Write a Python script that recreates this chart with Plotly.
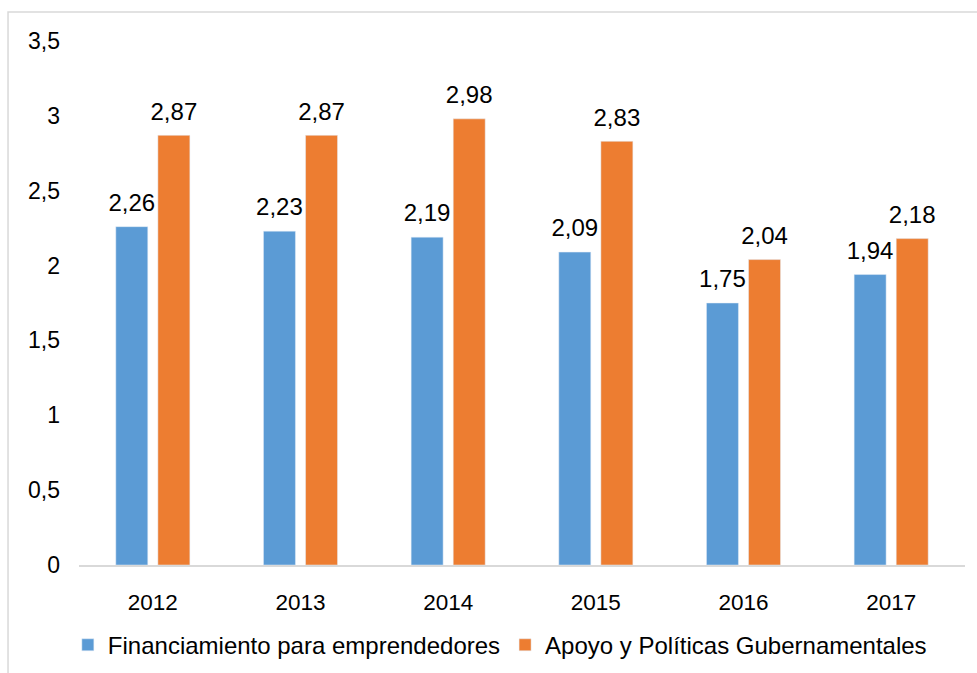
import plotly.graph_objects as go

years = ['2012', '2013', '2014', '2015', '2016', '2017']
financiamiento = [2.26, 2.23, 2.19, 2.09, 1.75, 1.94]
apoyo = [2.87, 2.87, 2.98, 2.83, 2.04, 2.18]
series_names = ['Financiamiento para emprendedores', 'Apoyo y Políticas Gubernamentales']
y_ticks = [0, 0.5, 1, 1.5, 2, 2.5, 3, 3.5]

font_family = 'Liberation Sans, Arial, sans-serif'
colors = ['#5B9BD5', '#ED7D31']

fig = go.Figure()
for i, (name, values, color) in enumerate(zip(series_names, [financiamiento, apoyo], colors)):
    fig.add_trace(go.Bar(
        x=years,
        y=values,
        name=name,
        marker_color=color,
        offsetgroup=str(i),
        cliponaxis=False,
    ))

# data labels as grouped text points so they sit a bit above the bars
for i, values in enumerate([financiamiento, apoyo]):
    fig.add_trace(go.Scatter(
        x=years,
        y=values,
        mode='markers+text',
        text=[f'{v:.2f}'.replace('.', ',') for v in values],
        textposition='top center',
        textfont=dict(size=24, color='#000000', family=font_family),
        marker=dict(size=14, opacity=0),
        offsetgroup=str(i),
        showlegend=False,
        hoverinfo='skip',
        cliponaxis=False,
    ))

fig.update_layout(
    width=977,
    height=673,
    separators=',.',
    barmode='group',
    scattermode='group',
    bargap=0.43,
    scattergap=0.43,
    bargroupgap=0.24,
    plot_bgcolor='white',
    paper_bgcolor='white',
    font=dict(family=font_family, size=22, color='#000000'),
    margin=dict(l=79, r=12, t=41, b=108, autoexpand=False),
    showlegend=True,
    legend=dict(
        orientation='h',
        x=0.475, xanchor='center',
        y=-0.153, yanchor='middle',
        font=dict(size=24, color='#000000'),
        itemwidth=30,
        traceorder='normal',
    ),
    xaxis=dict(
        showline=True,
        linecolor='#d9d9d9',
        linewidth=2,
        ticks='',
        showgrid=False,
        tickfont=dict(size=22.5),
        ticklabelstandoff=16,
    ),
    yaxis=dict(
        range=[0, 3.5],
        tickvals=y_ticks,
        showgrid=False,
        zeroline=False,
        showline=False,
        ticks='',
        tickfont=dict(size=23),
        ticklabelstandoff=18,
    ),
    shapes=[dict(
        type='rect', xref='paper', yref='paper',
        x0=-0.0801, x1=1.05, y0=-0.35, y1=1.0553,
        line=dict(color='#d9d9d9', width=1.5),
        fillcolor='rgba(0,0,0,0)',
        layer='below',
    )],
)

fig.write_html('out.html', config={'displayModeBar': False},
               post_script="document.body.style.margin='0';")
